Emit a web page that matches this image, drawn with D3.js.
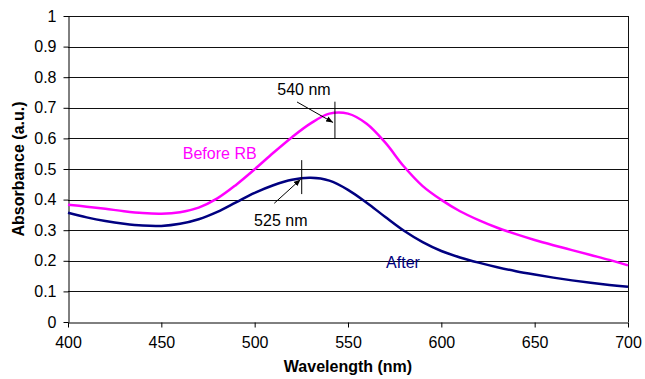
<!DOCTYPE html>
<html>
<head>
<meta charset="utf-8">
<script src="https://cdn.jsdelivr.net/npm/d3@7"></script>
<style>
  body { margin: 0; background: #fff; }
  svg { display: block; font-family: "Liberation Sans", Arial, sans-serif; }
  .tick text { font-size: 16px; fill: #000; }
  .domain { stroke: #000; }
</style>
</head>
<body>
<div id="svg-container"></div>
<script>
// data
const wavelengths = d3.range(400, 701, 10);
const beforeRB = [0.383, 0.377, 0.370, 0.362, 0.356, 0.354, 0.359, 0.374, 0.404, 0.448,
  0.499, 0.553, 0.604, 0.649, 0.681, 0.681, 0.648, 0.586, 0.508, 0.444,
  0.399, 0.362, 0.333, 0.308, 0.287, 0.268, 0.251, 0.235, 0.219, 0.203, 0.185];
const after = [0.357, 0.342, 0.330, 0.321, 0.315, 0.314, 0.321, 0.336, 0.360, 0.391,
  0.422, 0.447, 0.465, 0.471, 0.462, 0.432, 0.390, 0.343, 0.298, 0.261,
  0.232, 0.211, 0.194, 0.179, 0.166, 0.155, 0.145, 0.136, 0.128, 0.121, 0.115];
const xTicks = [400, 450, 500, 550, 600, 650, 700];
const yTicks = [0, 0.1, 0.2, 0.3, 0.4, 0.5, 0.6, 0.7, 0.8, 0.9, 1];

// peak markers (wavelength, absorbance)
const peaks = [
  { label: "540 nm", wl: 543, lo: 0.60, hi: 0.72, from: [522.7, 0.719], to: [542, 0.652], text: [526.4, 0.742] },
  { label: "525 nm", wl: 525.2, lo: 0.418, hi: 0.529, from: [510.5, 0.388], to: [524.6, 0.466], text: [514, 0.314] }
];

const width = 645, height = 379;
const margin = { top: 16, right: 17, bottom: 57, left: 68 };

const svg = d3.select("#svg-container").append("svg")
  .attr("width", width).attr("height", height);

const xScale = d3.scaleLinear().domain([400, 700]).range([margin.left, width - margin.right]);
const yScale = d3.scaleLinear().domain([0, 1]).range([height - margin.bottom, margin.top]);

// gridlines
svg.append("g")
  .selectAll("line")
  .data(yTicks.slice(1))
  .join("line")
  .attr("x1", xScale(400)).attr("x2", xScale(700))
  .attr("y1", (d) => Math.round(yScale(d)) + 0.5)
  .attr("y2", (d) => Math.round(yScale(d)) + 0.5)
  .attr("stroke", "#111").attr("stroke-width", 1);

// right border
svg.append("line")
  .attr("x1", Math.round(xScale(700)) + 0.5).attr("x2", Math.round(xScale(700)) + 0.5)
  .attr("y1", yScale(1)).attr("y2", yScale(0))
  .attr("stroke", "#111");

// axes
svg.append("g")
  .attr("transform", `translate(0, ${Math.round(yScale(0)) + 0.5})`)
  .call(d3.axisBottom(xScale).tickValues(xTicks).tickSize(5).tickPadding(9).tickSizeOuter(0));

svg.append("g")
  .attr("transform", `translate(${Math.round(xScale(400)) + 0.5},0)`)
  .call(d3.axisLeft(yScale).tickValues(yTicks).tickSize(5).tickPadding(7).tickSizeOuter(0)
    .tickFormat((d) => d3.format("~g")(d)));

// lines
const line = d3.line()
  .x((d, i) => xScale(wavelengths[i]))
  .y((d) => yScale(d))
  .curve(d3.curveCatmullRom);

svg.append("path").datum(beforeRB)
  .attr("d", line).attr("fill", "none")
  .attr("stroke", "#FF00FF").attr("stroke-width", 2.5);

svg.append("path").datum(after)
  .attr("d", line).attr("fill", "none")
  .attr("stroke", "#000080").attr("stroke-width", 2.5);

// arrow marker
svg.append("defs").append("marker")
  .attr("id", "arrow").attr("viewBox", "0 0 10 10")
  .attr("refX", 10).attr("refY", 5)
  .attr("markerWidth", 7).attr("markerHeight", 7)
  .attr("orient", "auto")
  .append("path").attr("d", "M0,1 L10,5 L0,9 z").attr("fill", "#000");

const ann = svg.append("g");
peaks.forEach((p) => {
  ann.append("line")
    .attr("x1", xScale(p.wl)).attr("x2", xScale(p.wl))
    .attr("y1", yScale(p.lo)).attr("y2", yScale(p.hi))
    .attr("stroke", "#000").attr("stroke-width", 1);
  ann.append("line")
    .attr("x1", xScale(p.from[0])).attr("y1", yScale(p.from[1]))
    .attr("x2", xScale(p.to[0])).attr("y2", yScale(p.to[1]))
    .attr("stroke", "#000").attr("stroke-width", 1)
    .attr("marker-end", "url(#arrow)");
  ann.append("text")
    .attr("x", xScale(p.text[0])).attr("y", yScale(p.text[1]))
    .attr("text-anchor", "middle").attr("font-size", 16)
    .text(p.label);
});

// series labels
svg.append("text")
  .attr("x", xScale(461.5)).attr("y", yScale(0.533))
  .attr("font-size", 16).attr("fill", "#FF00FF")
  .text("Before RB");

svg.append("text")
  .attr("x", xScale(570.4)).attr("y", yScale(0.176))
  .attr("font-size", 16).attr("fill", "#000080")
  .text("After");

// axis titles
svg.append("text")
  .attr("x", 348)
  .attr("y", 372)
  .attr("text-anchor", "middle").attr("font-size", 16).attr("font-weight", "bold")
  .text("Wavelength (nm)");

svg.append("text")
  .attr("transform", `translate(24, ${(margin.top + height - margin.bottom) / 2}) rotate(-90)`)
  .attr("text-anchor", "middle").attr("font-size", 16).attr("font-weight", "bold")
  .text("Absorbance (a.u.)");
</script>
</body>
</html>
